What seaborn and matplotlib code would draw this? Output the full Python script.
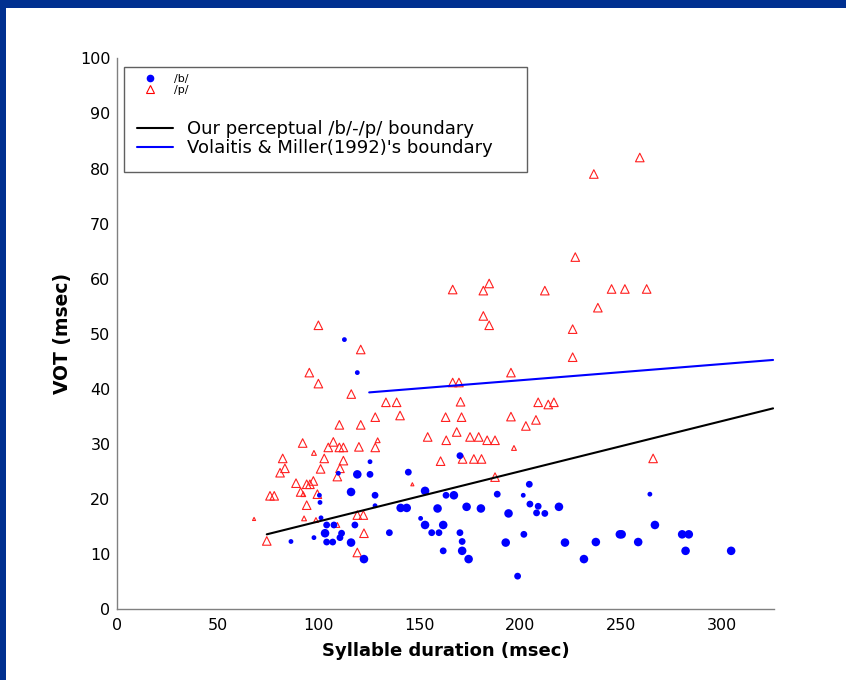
import matplotlib
matplotlib.use("Agg")
import matplotlib.pyplot as plt
import numpy as np
import pandas as pd
import seaborn as sns
from matplotlib.lines import Line2D
from matplotlib.patches import Rectangle

# ---------------- data ----------------
# /b/ tokens: syllable duration (msec), VOT (msec), token group
b_dur = [112.9, 119.3, 170.2, 125.6, 144.6, 119.3, 125.6, 109.9, 116.2, 152.9,
         128.1, 163.3, 167.2, 188.7, 100.5, 100.8, 128.1, 140.8, 143.8, 159.1,
         173.5, 180.6, 194.3, 101.3, 104.1, 107.7, 118.1, 150.7, 152.9, 161.9,
         103.3, 111.5, 110.7, 135.2, 156.2, 159.8, 170.2, 86.4, 97.8, 104.1,
         107.1, 116.2, 171.3, 192.9, 161.9, 171.3, 122.6, 174.5, 198.8, 204.6,
         264.4, 201.6, 204.9, 209.0, 208.2, 212.3, 219.3, 266.9, 201.9, 222.3,
         237.6, 249.5, 250.4, 258.6, 280.4, 283.7, 282.1, 304.7, 231.7]
b_vot = [48.9, 42.9, 27.8, 26.7, 24.8, 24.4, 24.4, 24.6, 21.2, 21.4,
         20.6, 20.6, 20.6, 20.8, 20.6, 19.3, 18.7, 18.3, 18.3, 18.2,
         18.5, 18.2, 17.3, 16.5, 15.2, 15.2, 15.2, 16.4, 15.2, 15.2,
         13.7, 13.7, 12.9, 13.8, 13.8, 13.8, 13.8, 12.2, 12.9, 12.1,
         12.1, 12.0, 12.2, 12.0, 10.5, 10.5, 9.0, 9.0, 5.9, 22.6,
         20.8, 20.6, 19.0, 18.6, 17.4, 17.3, 18.5, 15.2, 13.5, 12.0,
         12.1, 13.5, 13.5, 12.1, 13.5, 13.5, 10.5, 10.5, 9.0]
b_grp = ["S", "S", "M", "S", "M", "L", "M", "S", "L", "L",
         "M", "M", "L", "M", "S", "S", "S", "L", "L", "L",
         "L", "L", "L", "S", "M", "M", "M", "S", "L", "L",
         "L", "M", "M", "M", "M", "M", "M", "S", "S", "M",
         "M", "L", "M", "L", "M", "L", "L", "L", "M", "M",
         "S", "S", "M", "M", "M", "M", "L", "L", "M", "L",
         "L", "L", "L", "L", "L", "L", "L", "L", "L"]

# /p/ tokens
p_dur = [259.4, 236.6, 227.4, 212.3, 245.4, 252.0, 262.8, 238.6, 226.1, 226.1,
         195.5, 209.0, 214.0, 216.8, 195.5, 207.9, 202.9, 197.0, 266.0, 166.6,
         181.8, 184.7, 181.8, 184.7, 100.0, 121.0, 95.5, 100.0, 166.6, 169.7,
         116.3, 133.5, 138.8, 170.5, 140.5, 128.2, 163.1, 171.0, 110.4, 121.0,
         168.6, 154.2, 163.4, 175.2, 179.5, 183.7, 187.6, 92.2, 97.8, 107.4,
         104.9, 110.4, 112.4, 120.1, 129.4, 128.2, 82.3, 102.9, 112.4, 160.6,
         171.5, 177.1, 180.9, 83.4, 81.0, 101.1, 110.7, 109.4, 97.5, 88.9,
         94.2, 95.8, 91.2, 99.5, 92.5, 94.2, 92.9, 98.8, 119.3, 122.3,
         187.6, 109.4, 122.6, 119.3, 146.6, 76.0, 78.1, 68.1, 74.4]
p_vot = [82.0, 79.0, 63.9, 57.8, 58.1, 58.1, 58.1, 54.7, 50.8, 45.7,
         42.9, 37.5, 37.1, 37.5, 34.9, 34.3, 33.2, 29.2, 27.3, 58.0,
         57.8, 59.1, 53.2, 51.5, 51.5, 47.1, 42.9, 40.9, 41.1, 41.1,
         39.0, 37.5, 37.5, 37.6, 35.1, 34.8, 34.8, 34.8, 33.4, 33.4,
         32.1, 31.2, 30.6, 31.2, 31.2, 30.6, 30.6, 30.1, 28.3, 30.3,
         29.3, 29.3, 29.3, 29.4, 30.6, 29.3, 27.3, 27.3, 26.9, 26.8,
         27.2, 27.2, 27.2, 25.5, 24.7, 25.4, 25.5, 24.0, 23.2, 22.8,
         22.6, 22.6, 21.2, 20.8, 20.8, 18.8, 16.4, 16.1, 17.0, 17.0,
         23.9, 15.2, 13.7, 10.2, 22.6, 20.5, 20.5, 16.3, 12.3]
p_grp = ["N", "N", "N", "N", "N", "N", "N", "N", "N", "N",
         "N", "N", "N", "N", "N", "N", "N", "S", "N", "N",
         "N", "N", "N", "N", "N", "N", "N", "N", "N", "N",
         "N", "N", "N", "N", "N", "N", "N", "N", "N", "N",
         "N", "N", "N", "N", "N", "N", "N", "N", "S", "N",
         "N", "N", "N", "N", "S", "N", "N", "N", "N", "N",
         "N", "N", "N", "N", "N", "N", "N", "N", "N", "N",
         "N", "N", "N", "N", "S", "N", "S", "S", "N", "N",
         "N", "S", "N", "N", "T", "N", "N", "T", "N"]

# boundaries (end points)
our_dur = [74.4, 325.5]
our_vot = [13.5, 36.4]
vm_dur = [125.2, 325.5]
vm_vot = [39.3, 45.2]

legend_labels = ["/b/", "/p/", "Our perceptual /b/-/p/ boundary",
                 "Volaitis & Miller(1992)'s boundary"]
x_ticks = [0, 50, 100, 150, 200, 250, 300]
y_ticks = [0, 10, 20, 30, 40, 50, 60, 70, 80, 90, 100]

dfb = pd.DataFrame({"dur": b_dur, "vot": b_vot, "grp": b_grp})
dfp = pd.DataFrame({"dur": p_dur, "vot": p_vot, "grp": p_grp})

# ---------------- style ----------------
sns.set_style("white")
plt.rcParams["font.family"] = ["DejaVu Sans"]
plt.rcParams["text.color"] = "black"
plt.rcParams["axes.labelcolor"] = "black"

fig = plt.figure(figsize=(8.46, 6.8), dpi=100)
fig.patch.set_facecolor("white")
# blue slide frame
fig.patches.append(Rectangle((0, 1 - 8 / 680), 1, 8 / 680, transform=fig.transFigure,
                             facecolor="#003090", edgecolor="none", zorder=10))
fig.patches.append(Rectangle((0, 0), 6 / 846, 1, transform=fig.transFigure,
                             facecolor="#003090", edgecolor="none", zorder=10))

ax = fig.add_axes([0.138, 0.105, 0.777, 0.809])

sns.scatterplot(data=dfp, x="dur", y="vot", size="grp",
                sizes={"N": 38, "S": 12, "T": 5}, marker="^",
                facecolor="none", edgecolor="#ff2020", linewidth=0.8,
                legend=False, ax=ax, zorder=2)
sns.scatterplot(data=dfb, x="dur", y="vot", size="grp",
                sizes={"L": 38, "M": 24, "S": 12}, marker="o",
                color="blue", edgecolor="none", linewidth=0,
                legend=False, ax=ax, zorder=3)
sns.lineplot(x=our_dur, y=our_vot, color="black", linewidth=1.5, ax=ax, zorder=4)
sns.lineplot(x=vm_dur, y=vm_vot, color="blue", linewidth=1.5, ax=ax, zorder=4)

ax.set_xlim(0, 326)
ax.set_ylim(0, 100)
ax.set_xticks(x_ticks)
ax.set_yticks(y_ticks)
for s in ["top", "right"]:
    ax.spines[s].set_visible(False)
for s in ["left", "bottom"]:
    ax.spines[s].set_color("#808080")
    ax.spines[s].set_linewidth(1.0)
ax.tick_params(axis="x", direction="in", length=5, width=0.8, color="#808080",
               labelsize=11.5, pad=7, labelcolor="black")
ax.tick_params(axis="y", direction="out", length=2.5, width=0.8, color="#808080",
               labelsize=11.5, pad=2, labelcolor="black")
ax.set_xlabel("Syllable duration (msec)", fontsize=13, fontweight="bold",
              labelpad=6, color="black")
ax.set_ylabel("VOT (msec)", fontsize=13.5, fontweight="bold", labelpad=6,
              color="black")
ax.grid(False)

# legend
h_b = Line2D([], [], linestyle="none", marker="o", markersize=4.5,
             markerfacecolor="blue", markeredgecolor="blue")
h_p = Line2D([], [], linestyle="none", marker="^", markersize=5.5,
             markerfacecolor="none", markeredgecolor="red", markeredgewidth=0.8)
h_our = Line2D([], [], color="black", linewidth=1.5)
h_vm = Line2D([], [], color="blue", linewidth=1.5)

ax.add_patch(Rectangle((0.0106, 0.793), 0.614, 0.191, transform=ax.transAxes,
                       facecolor="white", edgecolor="#606060", linewidth=1.0,
                       zorder=5))
leg1 = ax.legend(handles=[h_b, h_p], labels=legend_labels[:2], loc="upper left",
                 bbox_to_anchor=(0.034, 0.972), frameon=False, fontsize=8,
                 handlelength=2, handletextpad=1.1, labelspacing=0.1,
                 borderpad=0, borderaxespad=0)
leg1.set_zorder(6)
ax.add_artist(leg1)
leg2 = ax.legend(handles=[h_our, h_vm], labels=legend_labels[2:], loc="upper left",
                 bbox_to_anchor=(0.031, 0.888), frameon=False, fontsize=13,
                 handlelength=2, handletextpad=0.78, labelspacing=0.05,
                 borderpad=0, borderaxespad=0)
leg2.set_zorder(6)

fig.savefig("out.png", dpi=100, facecolor="white")
